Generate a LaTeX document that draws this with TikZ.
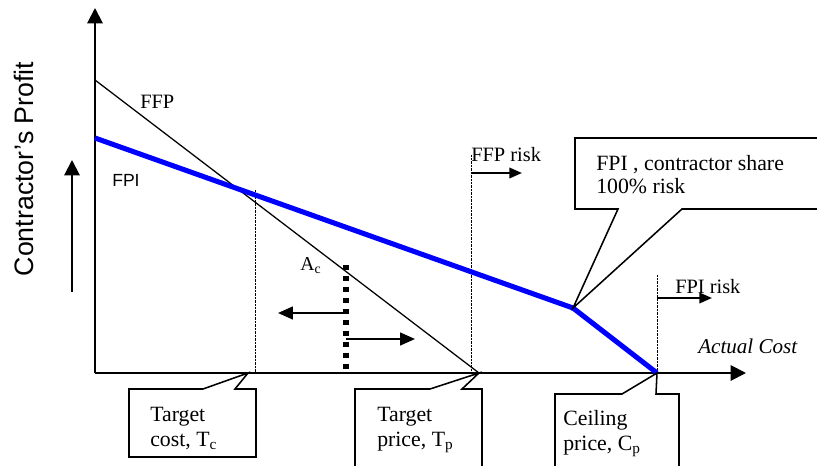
\documentclass[tikz,border=0pt]{standalone}
\usepackage{fontspec}
\setmainfont{Liberation Serif}
\newfontfamily\arialfont{Liberation Sans}
\usetikzlibrary{arrows.meta, positioning, calc}
\definecolor{fpiblue}{RGB}{0, 0, 255}

\tikzset{
  axis/.style={line width=1.4pt, -{Triangle[length=11pt,width=11pt]}},
  riskarrow/.style={line width=1.4pt, -{Triangle[length=9pt,width=7.5pt]}},
  shiftarrow/.style={line width=1.4pt, -{Triangle[length=10.5pt,width=9pt]}},
  guide/.style={line width=0.7pt, dash pattern=on 0.6pt off 0.4pt},
  callout/.style={line width=1.1pt, line join=miter},
  boxtext/.style={anchor=north west, inner sep=0pt, align=left, font=\fontsize{15.5}{18}\selectfont},
  lbl/.style={anchor=base west, inner sep=0pt},
}

\begin{document}
\begin{tikzpicture}[x=0.025cm, y=-0.025cm]
    \useasboundingbox (0,0) rectangle (817,466);

    % Key points
    \coordinate (O) at (95,373);
    \coordinate (ytip) at (95,8);
    \coordinate (xtip) at (746,373);
    \coordinate (ffpstart) at (95,80);
    \coordinate (Tp) at (479,373);
    \coordinate (fpistart) at (95,138);
    \coordinate (kink) at (573,308);
    \coordinate (Cp) at (657,373);
    \coordinate (Tc) at (248,373);

    % Guide lines
    \draw[guide] (255,190) -- (255,373);
    \draw[guide] (471,155) -- (471,373);
    \draw[guide] (657,275) -- (657,373);

    % FFP profit line
    \draw[line width=0.9pt] (ffpstart) -- (Tp);

    % Axes
    \draw[axis] (O) -- (ytip);
    \draw[axis] (O) -- (xtip);

    % FPI profit line
    \draw[fpiblue, line width=3.6pt, line join=round] (fpistart) -- (kink) -- (Cp);

    % Labels on the chart
    \node[lbl, font=\fontsize{14.5}{17}\selectfont] (ffplbl) at (140,109) {FFP};
    \node[lbl, font=\arialfont\fontsize{12.5}{15}\selectfont] (fpilbl) at (112,187) {FPI};
    \node[rotate=90, font=\arialfont\fontsize{19}{22}\selectfont] (ylbl) at (24,169) {Contractor’s Profit};
    \draw[axis] (72,292) -- (72,160);
    \node[lbl, font=\itshape\fontsize{15}{18}\selectfont] (xlbl) at (698,353) {Actual Cost};

    % Risk regions
    \node[lbl, font=\fontsize{14.5}{17}\selectfont] (ffprisk) at (471,162) {FFP risk};
    \draw[riskarrow] (471,173) -- (522,173);
    \node[lbl, font=\fontsize{14.5}{17}\selectfont] (fpirisk) at (675,293) {FPI risk};
    \draw[riskarrow] (657,298) -- (712,298);

    % Actual cost marker
    \node[lbl, font=\fontsize{14}{17}\selectfont] (aclbl) at (300,270) {A\textsubscript{c}};
    \draw[line width=3.6pt, dash pattern=on 3.6pt off 4.2pt] (346,265) -- (346,373);
    \draw[shiftarrow] (346,313) -- (278,313);
    \draw[shiftarrow] (346,339) -- (415,339);

    % Callouts
    \draw[callout, fill=white] (129,389) -- (203,389) -- (Tc) -- (235,389) -- (256,389) -- (256,457) -- (129,457) -- cycle;
    \node[boxtext] (tcbox) at (150,407) {Target\\cost, T\textsubscript{c}};

    \draw[callout] (355,466) -- (355,389) -- (430,389) -- (Tp) -- (462,389) -- (482,389) -- (482,466);
    \node[boxtext] (tpbox) at (377,407) {Target\\price, T\textsubscript{p}};

    \draw[callout] (555,466) -- (555,394) -- (622,394) -- (Cp) -- (656,394) -- (679,394) -- (679,466);
    \node[boxtext] (cpbox) at (563,410) {Ceiling\\price, C\textsubscript{p}};

    \draw[callout] (817,138) -- (575,138) -- (575,209) -- (618,209) -- (kink) -- (682,209) -- (817,209);
    \node[boxtext, font=\fontsize{15.5}{16.5}\selectfont] (fpibox) at (596,155) {FPI , contractor share\\100\% risk};
\end{tikzpicture}
\end{document}
